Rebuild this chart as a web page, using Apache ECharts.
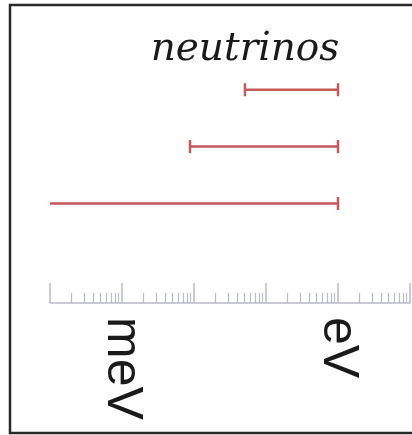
<!DOCTYPE html>
<html>
<head>
<meta charset="utf-8">
<script src="https://cdn.jsdelivr.net/npm/echarts@6/dist/echarts.min.js"></script>
<style>html,body{margin:0;padding:0;background:#fff}#c{width:412px;height:435px}</style>
</head>
<body>
<div id="c"></div>
<script>
// Neutrino mass ranges (eV)
var rows = [3, 2, 1];                 // vertical slot of each bar (top to bottom)
var lowEV = [0.051, 0.0088, 1e-5];   // lower ends (last one runs off the axis)
var highEV = [1, 1, 1];              // upper ends
var axisMin = 1e-4, axisMax = 10;
var labelValues = [0.001, 1];
var labelTexts = ['meV', 'eV'];
var titleText = 'neutrinos';

var majorTicks = [];
var minorTicks = [];
for (var d = -4; d <= 1; d++) {
  majorTicks.push(Math.pow(10, d));
  if (d < 1) for (var k = 2; k <= 9; k++) minorTicks.push(k * Math.pow(10, d));
}

var data = rows.map(function (r, i) { return [lowEV[i], highEV[i], r]; });

var chart = echarts.init(document.getElementById('c'));
var axisColor = '#b9b9cc';
var red = '#c4585a';

chart.setOption({
  animation: false,
  backgroundColor: '#fff',
  grid: { left: 50, right: 2, top: 30, bottom: 132, containLabel: false, outerBoundsMode: 'none' },
  xAxis: [
    {
      type: 'log', logBase: 10, min: axisMin, max: axisMax, position: 'bottom', offset: 0,
      axisLine: { show: true, onZero: false, lineStyle: { color: axisColor, width: 1.5 } },
      axisTick: { show: true, length: 20, inside: true, customValues: majorTicks,
                  lineStyle: { color: axisColor, width: 1.5 } },
      axisLabel: {
        show: true, customValues: labelValues, rotate: -90, margin: 14,
        fontFamily: 'Liberation Sans', fontSize: 50, color: '#1a1a1a',
        formatter: function (v) {
          for (var i = 0; i < labelValues.length; i++) {
            if (Math.abs(v - labelValues[i]) / labelValues[i] < 1e-6) return labelTexts[i];
          }
          return '';
        }
      },
      splitLine: { show: false }
    },
    {
      type: 'log', logBase: 10, min: axisMin, max: axisMax, position: 'bottom', offset: 0,
      axisLine: { show: false, onZero: false },
      axisTick: { show: true, length: 10, inside: true, customValues: minorTicks,
                  lineStyle: { color: axisColor, width: 1.2 } },
      axisLabel: { show: false },
      splitLine: { show: false }
    }
  ],
  yAxis: { type: 'value', min: -0.75, max: 4.05, show: false },
  graphic: [
    { type: 'rect', silent: true, z: 100,
      shape: { x: 10, y: 5, width: 430, height: 428 },
      style: { fill: 'none', stroke: '#2a2a2a', lineWidth: 2.5 } },
    { type: 'text', x: 245, y: 50, z: 100,
      style: { text: titleText, font: 'italic 39px "DejaVu Serif"', fill: '#1a1a1a',
               textAlign: 'center', textVerticalAlign: 'middle' } }
  ],
  series: [{
    type: 'custom',
    xAxisIndex: 0,
    data: data,
    encode: { x: [0, 1], y: 2 },
    clip: false,
    renderItem: function (params, api) {
      var lo = api.coord([api.value(0), api.value(2)]);
      var hi = api.coord([api.value(1), api.value(2)]);
      var left = params.coordSys.x;
      var capL = true;
      if (lo[0] < left) { lo[0] = left; capL = false; }
      var h = 6.5;
      var children = [{
        type: 'line', shape: { x1: lo[0], y1: lo[1], x2: hi[0], y2: hi[1] },
        style: { stroke: red, lineWidth: 2.5 }
      }, {
        type: 'line', shape: { x1: hi[0], y1: hi[1] - h, x2: hi[0], y2: hi[1] + h },
        style: { stroke: red, lineWidth: 2.5 }
      }];
      if (capL) children.push({
        type: 'line', shape: { x1: lo[0], y1: lo[1] - h, x2: lo[0], y2: lo[1] + h },
        style: { stroke: red, lineWidth: 2.5 }
      });
      return { type: 'group', children: children };
    }
  }]
});
</script>
</body>
</html>
